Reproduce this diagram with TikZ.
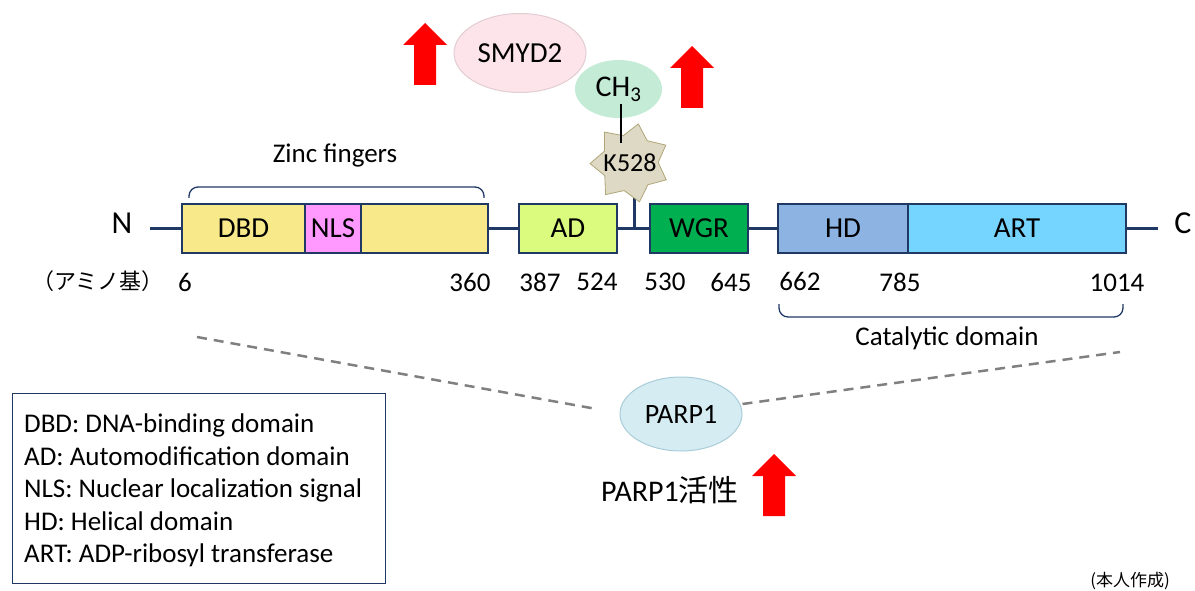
\documentclass[tikz,border=0pt]{standalone}
\usepackage{fontspec}
\setmainfont{Carlito}
\newfontfamily\jpfont{Noto Sans CJK JP}
\usepackage{tikz}
\usetikzlibrary{shapes.geometric}
\definecolor{navy}{HTML}{1F3864}
\definecolor{dbdyellow}{HTML}{F8E98A}
\definecolor{nlspink}{HTML}{FF99FF}
\definecolor{adlime}{HTML}{DBFB7F}
\definecolor{wgrgreen}{HTML}{00B050}
\definecolor{hdblue}{HTML}{8DB3E2}
\definecolor{artsky}{HTML}{75D5FF}
\tikzset{
  domainnode/.style = {rectangle, draw = navy, line width = 2.5pt, minimum height = 49pt, inner sep = 0pt, font = \fontsize{29}{34}\selectfont},
  YellowNode/.style = {domainnode, fill = dbdyellow},
  PinkNode/.style = {domainnode, fill = nlspink},
  LimeNode/.style = {domainnode, fill = adlime},
  GreenNode/.style = {domainnode, fill = wgrgreen},
  BlueNode/.style = {domainnode, fill = hdblue},
  SkyNode/.style = {domainnode, fill = artsky},
  NumLabel/.style = {inner sep = 0pt, font = \fontsize{27}{31}\selectfont},
  EndLabel/.style = {inner sep = 0pt, font = \fontsize{32}{36}\selectfont},
  linker/.style = {draw = navy, line width = 3.5pt},
  bracket/.style = {draw = navy, line width = 1.3pt, rounded corners = 9pt},
  dashline/.style = {draw = black!50, line width = 2.5pt, dash pattern = on 10pt off 7pt},
  redup/.pic = {\fill[red] (-11,0) -- (11,0) -- (11,-40) -- (22,-40) -- (0,-62) -- (-22,-40) -- (-11,-40) -- cycle;}
}

\begin{document}
\begin{tikzpicture}[x=1pt, y=-1pt]
  \useasboundingbox (0,0) rectangle (1195,591);

  \node [YellowNode, minimum width = 123pt] (dbd) at (243.5,228.5) {DBD};
  \node [PinkNode, minimum width = 56pt] (nls) at (333,228.5) {NLS};
  \node [YellowNode, minimum width = 127pt] (zfrest) at (424.5,228.5) {};
  \node [LimeNode, minimum width = 98pt] (ad) at (568,228.5) {AD};
  \node [GreenNode, minimum width = 98pt] (wgr) at (699,228.5) {WGR};
  \node [BlueNode, minimum width = 130pt] (hd) at (843,228.5) {HD};
  \node [SkyNode, minimum width = 218pt] (art) at (1017,228.5) {ART};

  \node [EndLabel] (nterm) at (122,223) {N};
  \node [EndLabel] (cterm) at (1183,223) {C};
  \coordinate (nend) at (150,228.5);
  \coordinate (cend) at (1158,228.5);
  \coordinate (lys) at (634,228.5);

  \draw [linker] (nend) -- (dbd.west);
  \draw [linker] (zfrest.east) -- (ad.west);
  \draw [linker] (ad.east) -- (wgr.west);
  \draw [linker] (wgr.east) -- (hd.west);
  \draw [linker] (art.east) -- (cend);
  \draw [draw = navy, line width = 3pt] (lys) -- (634,190);

  \node [star, star points = 7, star point ratio = 1.42, shape border rotate = -12, minimum size = 80pt, inner sep = 0pt,
         fill = {rgb,255:red,221;green,217;blue,196}, draw = {rgb,255:red,176;green,166;blue,120}, line width = 0.8pt] (k528) at (630,163) {};
  \node [inner sep = 0pt, font = \fontsize{26}{30}\selectfont] (k528text) at (k528.center) {K528};
  \node [ellipse, minimum width = 87pt, minimum height = 58pt, inner sep = 0pt, fill = {rgb,255:red,195;green,235;blue,214},
         font = \fontsize{30}{34}\selectfont] (ch3) at (618.5,89) {CH\textsubscript{3}};
  \draw [line width = 2pt] (621,104) -- (621,143);
  \node [ellipse, minimum width = 132pt, minimum height = 79pt, inner sep = 0pt, fill = {rgb,255:red,252;green,228;blue,234},
         draw = {rgb,255:red,225;green,205;blue,210}, line width = 1pt, font = \fontsize{29}{34}\selectfont] (smyd2) at (520,53) {SMYD2};

  \draw [bracket] (189,198) -- (189,187) -- (484,187) -- (484,198);
  \node [NumLabel] (zinc) at (335,155) {Zinc fingers};
  \draw [bracket] (779,304) -- (779,317) -- (1123,317) -- (1123,304);
  \node [NumLabel] (catal) at (947,338) {Catalytic domain};

  \node [NumLabel, font = \jpfont\fontsize{22}{26}\selectfont] (amino) at (98,281) {（アミノ基）};
  \node [NumLabel] (n6) at (185,282) {6};
  \node [NumLabel] (n360) at (470,282) {360};
  \node [NumLabel] (n387) at (540,282) {387};
  \node [NumLabel] (n524) at (597,282) {524};
  \node [NumLabel] (n530) at (665,282) {530};
  \node [NumLabel] (n645) at (731,282) {645};
  \node [NumLabel] (n662) at (800,281) {662};
  \node [NumLabel] (n785) at (900,282) {785};
  \node [NumLabel] (n1014) at (1117,283) {1014};

  \node [ellipse, minimum width = 122pt, minimum height = 74pt, inner sep = 0pt, fill = {rgb,255:red,214;green,236;blue,243},
         draw = {rgb,255:red,168;green,204;blue,216}, line width = 1pt, font = \fontsize{28}{32}\selectfont] (parp1) at (681,414) {PARP1};
  \coordinate (zl) at (197,337);
  \coordinate (zr) at (1120,352);
  \draw [dashline] (zl) -- ([xshift = -23pt, yshift = 5pt]parp1.west);
  \draw [dashline] ([yshift = 10pt]parp1.east) -- (zr);

  \node [NumLabel, font = \fontsize{30}{34}\selectfont] (activity) at (670,490) {PARP1\jpfont 活性};

  \pic at (425,85) {redup};
  \pic at (692,108) {redup};
  \pic at (774,516) {redup};

  \node [draw = navy, line width = 1pt, anchor = north west, minimum width = 373pt, minimum height = 190pt,
         inner sep = 0pt] (legendbox) at (12,393) {};
  \node [anchor = north west, align = left, inner sep = 0pt, font = \fontsize{27}{32.5}\selectfont] (legend) at (24,414) {DBD: DNA-binding domain\\AD: Automodification domain\\NLS: Nuclear localization signal\\HD: Helical domain\\ART: ADP-ribosyl transferase};

  \node [inner sep = 0pt, font = \jpfont\fontsize{17}{20}\selectfont] (credit) at (1130,581) {(本人作成)};
\end{tikzpicture}
\end{document}
